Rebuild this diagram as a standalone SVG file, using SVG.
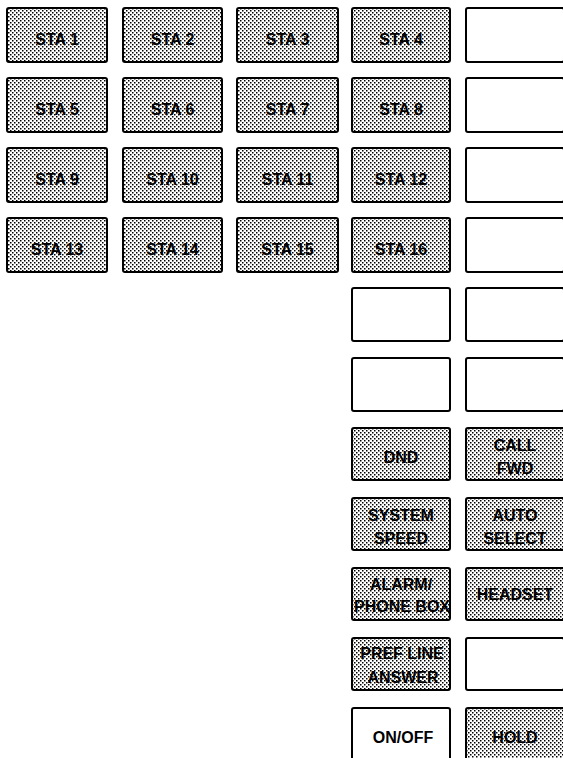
<svg xmlns="http://www.w3.org/2000/svg" width="563" height="758" viewBox="0 0 563 758">
<defs>
<pattern id="dots" patternUnits="userSpaceOnUse" width="4" height="4">
<rect width="4" height="4" fill="#ffffff"/>
<rect x="0" y="0" width="1.5" height="1.5" fill="#000"/>
<rect x="2" y="2" width="1.5" height="1.5" fill="#000"/>
</pattern>
<style>
.k{stroke:#000;stroke-width:2;rx:2}
.s{fill:url(#dots)}
.w{fill:#fff}
text{font-family:"Liberation Sans",Arial,sans-serif;font-weight:bold;font-size:16px;fill:#000;text-anchor:middle}
</style>
</defs>
<g id="sta1"><rect class="k s" x="7" y="8" width="100" height="54"/><text x="57" y="45">STA 1</text></g>
<g id="sta2"><rect class="k s" x="123" y="8" width="99" height="54"/><text x="172.5" y="45">STA 2</text></g>
<g id="sta3"><rect class="k s" x="237" y="8" width="101" height="54"/><text x="287.5" y="45">STA 3</text></g>
<g id="sta4"><rect class="k s" x="352" y="8" width="98" height="54"/><text x="401" y="45">STA 4</text></g>
<g id="blank1"><rect class="k w" x="466" y="8" width="98" height="54"/></g>

<g id="sta5"><rect class="k s" x="7" y="78" width="100" height="54"/><text x="57" y="115">STA 5</text></g>
<g id="sta6"><rect class="k s" x="123" y="78" width="99" height="54"/><text x="172.5" y="115">STA 6</text></g>
<g id="sta7"><rect class="k s" x="237" y="78" width="101" height="54"/><text x="287.5" y="115">STA 7</text></g>
<g id="sta8"><rect class="k s" x="352" y="78" width="98" height="54"/><text x="401" y="115">STA 8</text></g>
<g id="blank2"><rect class="k w" x="466" y="78" width="98" height="54"/></g>

<g id="sta9"><rect class="k s" x="7" y="148" width="100" height="54"/><text x="57" y="185">STA 9</text></g>
<g id="sta10"><rect class="k s" x="123" y="148" width="99" height="54"/><text x="172.5" y="185">STA 10</text></g>
<g id="sta11"><rect class="k s" x="237" y="148" width="101" height="54"/><text x="287.5" y="185">STA 11</text></g>
<g id="sta12"><rect class="k s" x="352" y="148" width="98" height="54"/><text x="401" y="185">STA 12</text></g>
<g id="blank3"><rect class="k w" x="466" y="148" width="98" height="54"/></g>

<g id="sta13"><rect class="k s" x="7" y="218" width="100" height="54"/><text x="57" y="255">STA 13</text></g>
<g id="sta14"><rect class="k s" x="123" y="218" width="99" height="54"/><text x="172.5" y="255">STA 14</text></g>
<g id="sta15"><rect class="k s" x="237" y="218" width="101" height="54"/><text x="287.5" y="255">STA 15</text></g>
<g id="sta16"><rect class="k s" x="352" y="218" width="98" height="54"/><text x="401" y="255">STA 16</text></g>
<g id="blank4"><rect class="k w" x="466" y="218" width="98" height="54"/></g>

<g id="blank5"><rect class="k w" x="352" y="288" width="98" height="53"/></g>
<g id="blank6"><rect class="k w" x="466" y="288" width="98" height="53"/></g>
<g id="blank7"><rect class="k w" x="352" y="358" width="98" height="53"/></g>
<g id="blank8"><rect class="k w" x="466" y="358" width="98" height="53"/></g>

<g id="dnd"><rect class="k s" x="352" y="428" width="98" height="52"/><text x="401" y="463">DND</text></g>
<g id="callfwd"><rect class="k s" x="466" y="428" width="98" height="52"/><text x="515" y="451">CALL</text><text x="515" y="474">FWD</text></g>

<g id="systemspeed"><rect class="k s" x="352" y="498" width="98" height="52"/><text x="401" y="521">SYSTEM</text><text x="401" y="544">SPEED</text></g>
<g id="autoselect"><rect class="k s" x="466" y="498" width="98" height="52"/><text x="515" y="521">AUTO</text><text x="515" y="544">SELECT</text></g>

<g id="alarm"><rect class="k s" x="352" y="568" width="98" height="52"/><text x="401" y="590">ALARM/</text><text x="402" y="612" font-size="15">PHONE BOX</text></g>
<g id="headset"><rect class="k s" x="466" y="568" width="98" height="52"/><text x="515" y="600">HEADSET</text></g>

<g id="prefline"><rect class="k s" x="352" y="638" width="98" height="52"/><text x="402" y="659">PREF LINE</text><text x="403" y="683">ANSWER</text></g>
<g id="blank9"><rect class="k w" x="466" y="638" width="98" height="52"/></g>

<g id="onoff"><rect class="k w" x="352" y="708" width="98" height="54"/><text x="403" y="743">ON/OFF</text></g>
<g id="hold"><rect class="k s" x="466" y="708" width="98" height="54"/><text x="515" y="743">HOLD</text></g>

<g id="connectors"></g>
</svg>
